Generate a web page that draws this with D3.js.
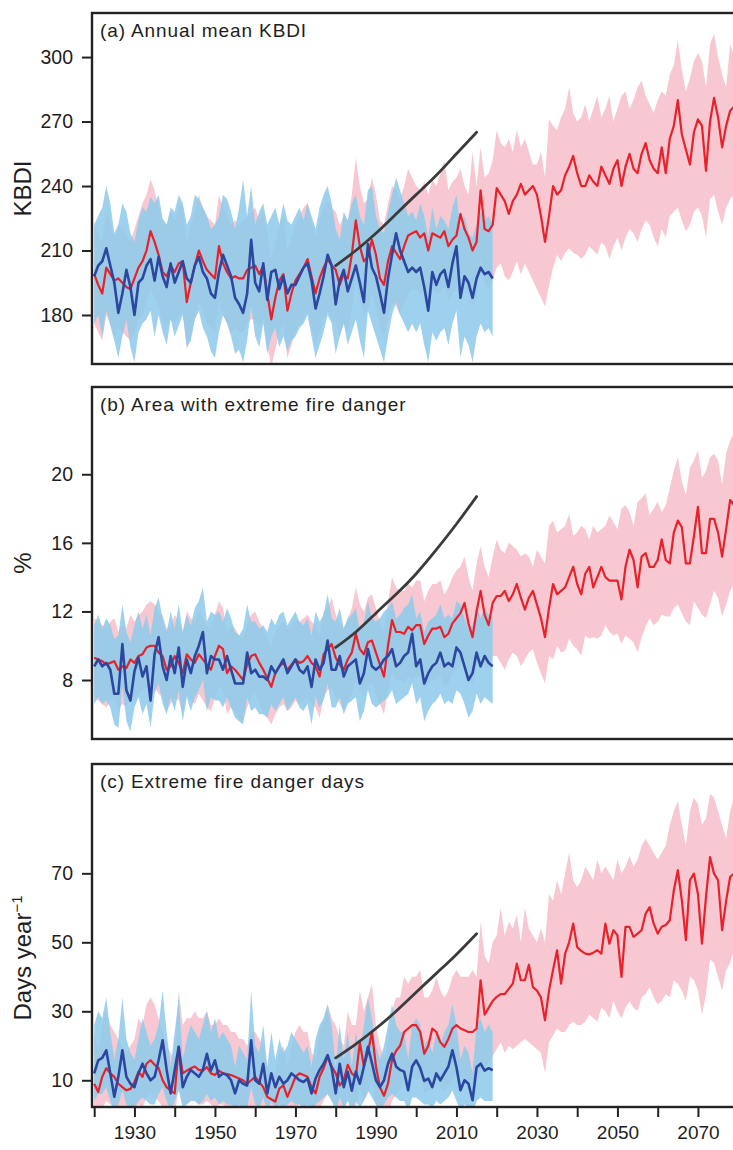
<!DOCTYPE html>
<html><head><meta charset="utf-8">
<script src="https://cdn.jsdelivr.net/npm/d3@7"></script>
<style>
body{margin:0;background:#fff}
svg{display:block}
text{font-family:"Liberation Sans",Arial,Helvetica,sans-serif;fill:#1e1e1e}
</style>
</head><body>
<svg id="chart" width="733" height="1150"></svg>
<script>
// ---------------- DATA ----------------
const startYear = 1920;            // first year of every annual series
const xTickYears = [1920,1930,1940,1950,1960,1970,1980,1990,2000,2010,2020,2030,2040,2050,2060,2070,2080];
const xTickLabels = [1930,1950,1970,1990,2010,2030,2050,2070];
const trendYears = [1980,1985,1990,1995,2000,2005,2010,2015];

// (a) Annual mean KBDI
const kbdiModel = [
199,194,190,202,199,196,197,195,193,192,
197,202,205,210,219,214,208,200,198,203,
200,204,205,186,195,203,210,205,201,199,
197,212,204,200,197,198,197,197,201,202,
203,199,203,190,178,188,196,199,182,190,
196,199,202,206,198,190,197,202,206,203,
201,194,199,197,208,224,212,205,207,215,
208,197,194,205,212,209,206,212,217,218,
219,216,218,210,218,217,216,219,212,215,
217,227,220,216,210,214,238,220,219,222,
239,236,233,227,233,236,241,236,238,240,
236,226,214,226,240,236,238,245,249,254,
246,240,240,245,242,240,249,245,241,248,
252,240,249,255,248,246,255,260,252,248,
246,258,246,262,268,280,264,257,250,265,
271,268,247,270,281,272,258,268,275,277];
const kbdiModelHi = [
222,218,214,228,224,216,222,220,218,214,
220,226,232,236,243,238,230,224,222,228,
224,230,232,214,222,228,236,230,226,224,
222,236,230,226,222,224,222,224,226,228,
230,224,228,218,206,214,222,226,210,216,
222,226,230,232,224,216,224,230,234,230,
228,222,226,224,236,253,240,232,234,244,
236,224,222,232,240,238,234,240,248,244,
240,238,242,236,243,240,246,252,238,242,
244,248,240,236,256,240,258,244,246,252,
266,260,258,262,256,266,258,262,256,250,
250,256,244,271,268,266,272,276,286,274,
270,272,278,270,276,282,272,276,282,270,
276,282,284,276,280,286,289,282,278,274,
280,284,282,292,296,308,294,284,290,298,
302,298,286,306,311,300,292,286,306,300];
const kbdiModelLo = [
176,172,168,180,176,170,174,172,170,168,
172,178,180,186,192,188,184,176,174,178,
176,180,182,164,170,178,186,182,176,174,
172,186,180,176,172,174,172,172,176,178,
178,174,178,166,156,164,172,176,160,166,
172,176,178,182,174,166,172,178,182,178,
176,170,176,172,182,196,188,180,182,190,
184,174,170,180,186,184,180,186,190,192,
192,190,192,184,192,190,190,194,186,190,
192,200,194,190,184,188,206,194,192,196,
202,204,198,196,200,205,199,204,200,196,
192,188,184,194,202,208,205,209,211,209,
208,206,208,212,210,208,214,212,206,212,
216,210,216,220,218,214,220,224,222,216,
212,220,216,226,228,230,224,219,222,228,
230,226,216,234,236,228,222,230,234,236];
const kbdiObs = [
198,203,205,211,203,195,181,190,201,193,
180,195,197,203,206,196,207,198,193,204,
195,200,205,197,195,203,207,200,197,190,
188,200,208,203,198,188,185,181,190,215,
195,191,204,187,200,201,192,198,190,194,
194,198,202,204,196,183,190,198,208,203,
185,196,201,191,197,203,195,186,213,202,
198,190,181,197,208,218,210,205,200,202,
200,202,193,182,200,194,199,201,193,204,
212,188,198,195,188,197,202,199,200,197];
const kbdiObsHi = [
222,226,230,240,232,218,222,232,228,218,
214,224,230,228,235,232,236,225,222,230,
228,236,232,222,226,236,234,230,226,220,
222,226,236,234,228,220,230,243,226,240,
222,228,232,222,226,230,222,232,224,222,
226,230,224,232,226,220,230,236,240,232,
220,215,228,224,232,236,226,222,238,240,
226,220,218,228,236,244,238,232,226,228,
224,232,226,216,230,220,226,224,220,230,
236,220,226,218,216,222,228,224,226,222];
const kbdiObsLo = [
176,180,170,182,175,168,160,170,178,165,
158,172,176,178,182,170,180,172,166,178,
170,175,180,165,168,178,182,174,170,163,
160,172,180,176,170,162,164,158,168,184,
170,165,176,162,170,174,165,170,163,168,
170,174,176,180,170,160,166,172,180,176,
162,170,176,166,172,178,168,160,182,176,
170,164,158,170,180,186,180,176,172,176,
172,176,166,158,172,168,172,174,166,176,
182,160,170,166,158,170,176,172,174,170];
const kbdiTrend = [203,210,218,227,236,245,255,265];

// (b) Area with extreme fire danger (%)
const areaModel = [
9.3,9.2,9.1,8.9,9.0,9.1,8.6,8.8,8.7,9.2,
9.0,9.4,9.5,9.9,10.0,10.0,9.6,9.4,8.6,8.8,
9.4,9.0,8.4,9.5,9.2,9.0,9.5,9.2,8.9,8.6,
9.4,10.0,9.8,8.4,8.8,8.6,8.3,8.0,8.9,9.4,
9.5,9.0,8.6,8.1,7.6,8.4,8.8,9.0,8.6,8.9,
9.2,9.0,9.1,9.4,9.0,8.8,8.2,9.5,9.8,10.1,
9.3,8.9,8.6,9.2,9.6,10.7,9.8,9.5,10.2,10.3,
9.6,8.9,8.2,10.0,11.5,10.8,10.8,10.7,11.1,10.9,
11.2,11.2,10.1,10.6,11.0,11.0,11.1,10.5,10.7,11.3,
11.6,11.9,12.5,11.3,10.5,12.0,13.2,11.8,11.2,12.5,
12.9,12.9,13.2,12.6,13.0,13.6,12.8,12.1,12.8,13.2,
12.4,11.6,10.5,12.2,13.6,13.0,13.2,13.4,14.0,14.6,
13.6,13.0,14.2,14.6,13.4,14.0,14.6,14.0,13.8,13.8,
13.8,12.7,14.6,15.6,15.0,13.4,15.2,15.4,14.6,14.6,
15.0,16.2,15.0,14.8,16.6,17.3,16.9,14.8,14.8,16.4,
18.1,15.4,15.4,17.4,17.4,16.6,15.2,16.8,18.5,18.2];
const areaModelHi = [
11.6,11.4,11.2,11.0,11.4,11.6,10.8,11.2,11.0,11.8,
11.4,11.8,12.0,12.4,12.6,12.4,12.0,11.8,11.0,11.2,
11.8,11.4,10.8,12.0,11.6,11.4,12.0,11.6,11.2,11.0,
11.8,12.6,12.2,10.8,11.2,11.0,10.6,10.4,11.2,11.8,
12.0,11.4,11.0,10.4,10.0,10.8,11.2,11.4,11.0,11.2,
11.6,11.4,11.6,11.8,11.4,11.2,10.6,12.0,12.2,12.8,
11.8,11.2,11.0,11.6,12.2,13.4,12.4,12.0,12.8,13.0,
12.2,11.4,10.8,12.6,14.0,13.4,13.2,13.2,13.6,13.4,
13.8,13.8,12.6,13.2,13.6,13.6,13.8,13.0,13.4,14.0,
14.4,14.6,15.2,14.0,13.2,14.8,15.8,14.6,14.0,15.2,
16.2,15.6,15.4,16.0,15.8,15.6,15.2,15.4,15.2,14.6,
15.6,15.2,14.8,17.0,17.3,16.6,16.8,17.0,17.7,16.4,
16.6,17.0,16.8,16.2,17.0,16.6,16.8,17.0,17.6,17.2,
16.8,18.0,18.2,17.8,17.0,18.4,18.6,18.9,17.6,18.0,
18.4,17.8,18.2,19.2,20.2,21.0,19.6,18.8,20.4,20.8,
21.4,19.8,20.2,21.0,21.2,20.8,19.4,21.2,22.0,22.4];
const areaModelLo = [
7.0,6.8,6.6,6.4,6.8,7.0,6.2,6.6,6.4,7.0,
6.8,7.2,7.4,7.6,7.8,7.6,7.2,7.0,6.2,6.6,
7.0,6.8,6.0,7.2,6.8,6.6,7.2,6.8,6.4,6.2,
7.0,7.6,7.4,6.0,6.4,6.2,5.8,5.6,6.4,7.0,
7.2,6.6,6.2,5.8,5.4,6.0,6.4,6.6,6.2,6.4,
6.8,6.6,6.8,7.0,6.6,6.4,5.8,7.0,7.4,7.6,
7.0,6.6,6.2,6.8,7.2,8.0,7.4,7.0,7.6,7.8,
7.2,6.6,6.0,7.4,8.4,8.0,8.0,7.8,8.2,8.0,
8.2,8.2,7.4,7.8,8.0,8.0,8.2,7.6,7.8,8.4,
8.6,8.8,9.2,8.4,7.6,8.8,9.6,8.8,8.6,9.4,
9.4,9.0,8.6,9.2,9.6,9.4,8.8,9.2,9.6,9.8,
9.0,8.4,7.8,9.4,9.2,10.0,9.6,9.7,10.4,10.0,
9.8,9.4,10.6,10.4,10.5,10.4,10.6,11.2,10.8,10.6,
10.7,10.1,10.6,10.4,10.2,9.6,10.5,11.1,11.6,11.2,
11.4,11.8,11.7,11.7,12.2,12.4,11.9,11.4,11.2,12.6,
12.2,11.8,11.6,12.4,13.2,12.8,11.7,12.4,13.2,13.6];
const areaObs = [
8.8,9.2,8.8,9.0,8.6,7.2,7.2,10.1,7.4,6.8,
8.5,9.3,8.2,8.8,6.8,9.5,10.5,8.8,8.0,9.4,
8.4,9.9,7.6,9.2,8.4,9.4,10.0,10.8,8.4,9.4,
9.2,9.2,8.6,9.4,8.6,7.8,7.8,7.8,9.6,8.4,
8.6,8.2,8.2,8.0,8.8,8.4,8.8,9.2,8.4,8.8,
9.2,8.6,8.4,8.8,7.6,9.2,8.6,9.0,10.3,8.6,
8.6,9.4,8.2,8.8,9.0,9.2,7.8,8.4,9.8,8.8,
8.6,8.8,9.2,9.4,9.8,8.8,9.0,9.4,9.6,10.7,
8.8,9.2,7.8,8.4,8.8,9.0,9.6,8.8,9.0,8.8,
9.9,9.6,8.8,8.0,8.4,9.6,8.8,9.4,9.0,8.8];
const areaObsHi = [
11.2,11.8,11.0,11.6,11.2,10.4,10.6,12.4,10.8,10.2,
11.2,12.0,11.0,11.8,10.6,12.2,12.8,11.6,10.8,12.0,
11.0,12.4,10.8,11.8,11.2,12.2,12.6,13.4,11.4,12.0,
11.8,12.0,11.4,12.2,11.6,10.8,10.6,11.0,12.4,11.4,
11.4,11.0,11.2,10.8,11.6,11.2,11.8,12.0,11.2,11.6,
12.0,11.4,11.2,11.6,10.6,12.0,11.4,11.8,13.0,11.6,
11.4,12.2,11.0,11.6,11.8,12.2,10.8,11.4,12.6,11.6,
11.4,11.6,12.0,12.2,12.6,11.6,11.8,12.2,12.4,13.0,
11.6,12.0,10.8,11.4,11.6,11.8,12.4,11.6,11.8,11.6,
12.6,12.4,11.6,11.0,11.2,12.4,11.6,12.2,11.8,11.6];
const areaObsLo = [
6.6,7.0,6.6,6.8,6.4,5.4,5.2,7.6,5.6,5.0,
6.4,7.0,6.0,6.6,5.2,7.2,7.8,6.6,6.0,7.0,
6.2,7.4,5.6,7.0,6.2,7.0,7.4,8.0,6.2,7.0,
6.8,6.8,6.4,7.0,6.4,5.8,5.6,5.4,7.0,6.2,
6.4,6.0,6.0,5.8,6.6,6.2,6.6,7.0,6.2,6.6,
7.0,6.4,6.2,6.6,5.4,7.0,6.4,6.8,7.8,6.4,
6.4,7.0,6.0,6.6,6.8,7.0,5.6,6.2,7.4,6.6,
6.4,6.6,6.8,7.0,7.4,6.6,6.8,7.0,7.2,7.8,
6.6,7.0,5.6,6.2,6.6,6.8,7.2,6.6,6.8,6.6,
7.4,7.2,6.6,5.8,6.2,7.2,6.6,7.0,6.8,6.6];
const areaTrend = [9.9,10.8,11.9,13.0,14.2,15.6,17.1,18.7];

// (c) Extreme fire danger days (days per year)
const daysModel = [
9.0,6.6,11.0,13.5,12.0,11.0,9.0,8.0,7.1,7.5,
9.5,12.5,11.0,14.8,15.8,14.5,13.5,10.0,8.0,7.0,
6.2,19.7,12.0,12.8,13.5,14.0,13.0,12.8,13.8,12.0,
11.5,12.8,12.0,11.8,11.5,11.0,10.5,10.0,9.0,10.0,
11.0,9.5,8.0,5.2,4.5,3.8,7.6,8.5,5.2,8.0,
11.0,12.0,11.5,11.0,8.0,6.2,11.0,13.5,16.8,14.0,
12.0,8.5,10.0,14.5,12.0,11.0,21.0,14.0,18.0,24.0,
14.0,8.0,5.5,9.0,16.0,18.5,20.0,24.0,25.0,26.0,
26.0,24.0,17.7,20.0,25.0,24.0,21.0,19.7,22.0,25.0,
26.0,25.0,24.5,24.0,24.0,25.0,39.0,29.0,31.0,33.0,
34.2,35.0,35.0,36.5,38.0,43.8,39.0,39.0,43.5,37.0,
36.0,34.0,27.4,36.0,42.0,47.7,38.0,46.7,50.0,55.4,
48.6,47.5,46.7,46.5,47.0,47.7,46.7,55.4,49.6,53.5,
52.0,40.0,54.5,54.5,51.6,52.5,53.5,58.3,60.2,55.4,
52.5,54.5,55.0,56.4,65.0,70.9,62.2,50.6,68.0,69.9,
64.0,49.6,63.2,74.7,69.9,68.0,53.5,62.0,69.0,70.0];
const daysModelHi = [
24,18,26,30,26,24,22,20,18,20,
22,28,26,32,34,32,28,24,20,18,
16,36,26,28,28,30,28,28,30,26,
26,28,26,26,24,24,22,22,20,24,
24,22,20,14,12,12,18,20,14,20,
24,26,24,24,18,16,24,28,32,28,
26,22,20,30,26,26,36,30,34,38,
26,20,16,22,30,34,34,40,38,40,
40,42,34,34,36,40,36,34,36,40,
42,40,40,40,42,40,56,46,44,50,
52,60,52,56,54,58,50,60,54,52,
50,54,50,64,62,68,64,70,76,68,
66,68,72,70,68,74,70,72,70,68,
74,70,72,75,72,74,78,80,78,76,
74,76,78,84,88,91,84,78,88,92,
90,84,86,93,92,88,84,80,88,92];
const daysModelLo = [
1,0,2,4,3,2,1,0,0,0,
1,3,2,5,6,5,4,2,1,0,
0,8,3,3,4,4,3,3,4,3,
2,3,3,2,2,2,1,1,0,1,
2,1,0,0,0,0,0,0,0,0,
2,3,2,2,0,0,2,4,6,4,
3,1,0,5,3,2,8,4,6,10,
3,0,0,0,4,6,7,10,10,11,
10,11,6,7,8,11,8,7,8,10,
12,11,10,10,10,10,13,14,15,17,
19,21,18,20,19,20,21,22,21,20,
19,18,12,21,23,25,24,24,26,27,
26,26,27,29,28,27,31,30,28,33,
30,28,31,33,31,30,34,35,37,34,
32,33,35,34,39,38,36,33,40,39,
36,29,35,45,44,40,36,42,44,48];
const daysObs = [
12.0,15.8,16.5,18.7,12.0,5.2,11.0,18.7,11.0,9.0,
8.0,12.0,14.8,12.0,10.0,11.0,15.8,21.6,13.0,6.2,
13.0,19.7,8.0,11.0,13.0,12.0,11.0,13.0,17.7,12.8,
15.8,11.0,12.0,11.5,10.0,6.2,10.0,9.0,8.5,21.6,
10.0,9.0,14.8,6.2,12.0,8.0,11.0,9.0,10.0,12.0,
11.0,10.0,9.5,10.5,6.2,10.5,13.0,14.8,17.3,13.5,
6.2,14.8,8.0,12.5,7.0,12.5,9.0,13.9,19.7,15.0,
10.0,8.0,10.0,14.8,17.7,14.0,13.0,12.5,7.1,14.0,
15.8,13.5,9.8,10.5,8.0,12.0,10.0,12.0,14.0,18.7,
13.8,7.1,10.0,9.0,4.2,13.8,14.8,12.8,13.5,12.9];
const daysObsHi = [
26,30,28,34,24,16,22,34,22,18,
16,22,28,24,20,22,26,36,24,14,
24,34,16,22,26,24,22,26,30,24,
28,22,24,22,20,14,20,18,16,36,
20,18,26,14,24,16,22,18,20,24,
22,20,18,20,14,22,26,28,32,26,
14,26,16,24,14,24,18,26,34,28,
20,16,20,26,32,26,24,24,16,26,
28,26,20,22,18,24,20,24,26,32,
26,16,20,18,12,26,28,24,26,24];
const daysObsLo = [
4,6,6,8,4,1,3,7,3,2,
2,4,5,4,3,3,6,8,4,1,
4,7,2,3,4,4,3,4,6,4,
5,3,4,3,3,1,3,2,2,8,
3,2,5,1,4,2,3,2,3,4,
3,3,2,3,1,3,4,5,6,4,
1,5,2,4,1,4,2,4,7,5,
3,2,3,5,6,5,4,4,1,5,
5,4,3,3,2,4,3,4,5,7,
4,1,3,2,0,4,5,4,4,4];
const daysTrend = [16.5,20.5,25,30,35.5,41,46.5,52.5];

// ---------------- LAYOUT / STYLE ----------------
const frameLeft = 92, frameRight = 800;
const colors = {pink:"#f7c8d1", blue:"#8fcbeb", red:"#e8212a", navy:"#2b479f", trend:"#3b3b3b", frame:"#232323"};

const panels = [
  {title:"(a) Annual mean KBDI", ylabel:"KBDI", top:13, bottom:364, domain:[157.2,320.5],
   yTicks:[180,210,240,270,300], model:kbdiModel, modelHi:kbdiModelHi, modelLo:kbdiModelLo,
   obs:kbdiObs, obsHi:kbdiObsHi, obsLo:kbdiObsLo, trend:kbdiTrend},
  {title:"(b) Area with extreme fire danger", ylabel:"%", top:387, bottom:739, domain:[4.56,25.09],
   yTicks:[8,12,16,20], model:areaModel, modelHi:areaModelHi, modelLo:areaModelLo,
   obs:areaObs, obsHi:areaObsHi, obsLo:areaObsLo, trend:areaTrend},
  {title:"(c) Extreme fire danger days", ylabel:"Days year", top:764, bottom:1107, domain:[2.25,101.7],
   yTicks:[10,30,50,70], model:daysModel, modelHi:daysModelHi, modelLo:daysModelLo,
   obs:daysObs, obsHi:daysObsHi, obsLo:daysObsLo, trend:daysTrend}
];

const svg = d3.select("#chart");
const x = d3.scaleLinear().domain([1920, 2080]).range([94.2, 738.2]);

panels.forEach((p, pi) => {
  const y = d3.scaleLinear().domain(p.domain).range([p.bottom, p.top]);
  const g = svg.append("g");
  const clipId = "clip" + pi;
  svg.append("clipPath").attr("id", clipId).append("rect")
    .attr("x", frameLeft).attr("y", p.top).attr("width", frameRight - frameLeft).attr("height", p.bottom - p.top);
  const data = g.append("g").attr("clip-path", `url(#${clipId})`);

  const modelRows = p.model.map((v, i) => ({yr: startYear + i, v, lo: p.modelLo[i], hi: p.modelHi[i]}));
  const obsRows = p.obs.map((v, i) => ({yr: startYear + i, v, lo: p.obsLo[i], hi: p.obsHi[i]}));
  const trendRows = p.trend.map((v, i) => ({yr: trendYears[i], v}));

  const band = d3.area().x(d => x(d.yr)).y0(d => y(d.lo)).y1(d => y(d.hi));
  const line = d3.line().x(d => x(d.yr)).y(d => y(d.v));

  data.append("path").datum(modelRows).attr("d", band).attr("fill", colors.pink);
  data.append("path").datum(obsRows).attr("d", band).attr("fill", colors.blue).attr("fill-opacity", 0.88);
  data.append("path").datum(modelRows).attr("d", line).attr("fill", "none")
    .attr("stroke", colors.red).attr("stroke-width", 2.2).attr("stroke-linejoin", "round");
  data.append("path").datum(obsRows).attr("d", line).attr("fill", "none")
    .attr("stroke", colors.navy).attr("stroke-width", 2.6).attr("stroke-linejoin", "round");
  data.append("path").datum(trendRows).attr("d", line.curve(d3.curveNatural)).attr("fill", "none")
    .attr("stroke", colors.trend).attr("stroke-width", 2.8).attr("stroke-linecap", "round");

  // frame
  g.append("rect").attr("x", frameLeft).attr("y", p.top)
    .attr("width", frameRight - frameLeft).attr("height", p.bottom - p.top)
    .attr("fill", "none").attr("stroke", colors.frame).attr("stroke-width", 2.4);

  // y axis
  const ya = g.append("g").attr("transform", `translate(${frameLeft},0)`)
    .call(d3.axisLeft(y).tickValues(p.yTicks).tickSize(10).tickPadding(9));
  ya.select(".domain").remove();
  ya.selectAll("line").attr("stroke", colors.frame).attr("stroke-width", 2);
  ya.selectAll("text").attr("font-size", 19.5).attr("font-family", '"Liberation Sans",Arial,sans-serif').attr("fill", "#1e1e1e");

  // panel title
  g.append("text").attr("x", 100).attr("y", p.top + 24).attr("font-size", 19)
    .attr("letter-spacing", 0.9).text(p.title);

  // y label
  const cy = (p.top + p.bottom) / 2;
  const yl = g.append("text").attr("transform", `translate(31,${pi === 2 ? 958 : cy}) rotate(-90)`)
    .attr("text-anchor", "middle").attr("font-size", 24).text(p.ylabel);
  if (pi === 2) yl.append("tspan").attr("dy", -9).attr("font-size", 15).text("\u22121");

  // x axis on the last panel
  if (pi === 2) {
    const labelSet = new Set(xTickLabels);
    const xa = g.append("g").attr("transform", `translate(0,${p.bottom})`)
      .call(d3.axisBottom(x).tickValues(xTickYears).tickSize(10).tickPadding(9)
        .tickFormat(d => labelSet.has(d) ? String(d) : ""));
    xa.select(".domain").remove();
    xa.selectAll("line").attr("stroke", colors.frame).attr("stroke-width", 2);
    xa.selectAll("text").attr("font-size", 19).attr("font-family", '"Liberation Sans",Arial,sans-serif').attr("fill", "#1e1e1e");
  }
});
</script>
</body></html>
